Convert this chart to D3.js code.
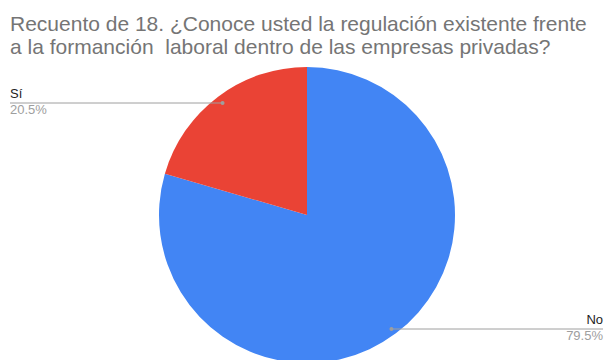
<!DOCTYPE html>
<html><head><meta charset="utf-8">
<script src="https://cdn.jsdelivr.net/npm/d3@7"></script>
<style>body{margin:0;background:#fff}svg{display:block}</style>
</head><body>
<svg id="c" width="606" height="360"></svg>
<script>
const categories = ["No", "Sí"];
const values = [79.5, 20.5];
const colors = ["#4285F4", "#EA4335"];
const titleLines = ["Recuento de 18. ¿Conoce usted la regulación existente frente", "a la formanción  laboral dentro de las empresas privadas?"];

const svg = d3.select("#c");
const font = "Arial, 'Liberation Sans', sans-serif";
svg.append("rect").attr("width",606).attr("height",360).attr("fill","#fff");

svg.append("g").selectAll("text").data(titleLines).join("text")
  .attr("x", 10).attr("y", (d,i)=>31 + i*23)
  .attr("font-family", font).attr("font-size", 21).attr("fill", "#757575")
  .style("white-space","pre").text(d=>d);

const cx = 307, cy = 215, r = 148;
const data = categories.map((c,i)=>({cat:c, value:values[i], color:colors[i]}));
const pie = d3.pie().value(d=>d.value).sort(null);
const arcs = pie(data);
const arc = d3.arc().innerRadius(0).outerRadius(r);
const g = svg.append("g").attr("transform", `translate(${cx},${cy})`);
g.selectAll("path").data(arcs).join("path").attr("d", arc).attr("fill", d=>d.data.color);

const inner = d3.arc().innerRadius(r*0.95).outerRadius(r*0.95);
const total = d3.sum(values);
const labelSpec = {"Sí": {side:"left", lineY:103}, "No": {side:"right", lineY:329}};
arcs.forEach(a=>{
  const [px,py] = inner.centroid(a);
  const x = cx+px;
  const spec = labelSpec[a.data.cat];
  const ly = spec.lineY;
  const x2 = spec.side==="left" ? 10 : 603;
  svg.append("line").attr("x1", x).attr("y1", ly).attr("x2", x2).attr("y2", ly)
    .attr("stroke","#9e9e9e").attr("stroke-width",1);
  svg.append("circle").attr("cx", x).attr("cy", ly).attr("r", 2).attr("fill","#9e9e9e");
  const anchor = spec.side==="left" ? "start" : "end";
  svg.append("text").attr("x", x2).attr("y", ly-5).attr("text-anchor", anchor)
    .attr("font-family", font).attr("font-size", 13).attr("fill","#222").text(a.data.cat);
  svg.append("text").attr("x", x2).attr("y", ly+11).attr("text-anchor", anchor)
    .attr("font-family", font).attr("font-size", 13).attr("fill","#9e9e9e")
    .text((a.data.value/total*100).toFixed(1)+"%");
});
</script>
</body></html>
